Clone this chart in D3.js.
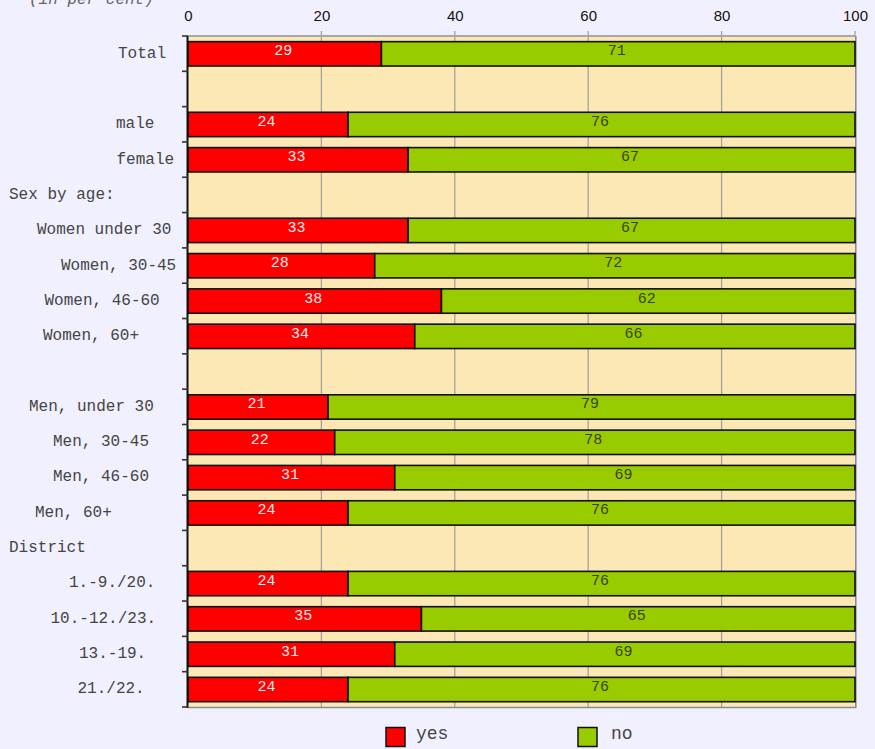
<!DOCTYPE html>
<html>
<head>
<meta charset="utf-8">
<script src="https://cdn.jsdelivr.net/npm/d3@7"></script>
<style>
  html, body { margin: 0; padding: 0; background: #f0f0ff; }
  svg { display: block; }
  .mono { font-family: "Courier New", "Liberation Mono", monospace; }
</style>
</head>
<body>
<svg id="chart" width="875" height="749"></svg>
<script>
// Survey answers by group (per cent); empty rows separate the sections
const rowLabels = ["Total", "", "male", "female", "Sex by age:",
  "Women under 30", "Women, 30-45", "Women, 46-60", "Women, 60+", "",
  "Men, under 30", "Men, 30-45", "Men, 46-60", "Men, 60+", "District",
  "1.-9./20.", "10.-12./23.", "13.-19.", "21./22."];
const yesValues = [29, null, 24, 33, null, 33, 28, 38, 34, null, 21, 22, 31, 24, null, 24, 35, 31, 24];
const noValues  = [71, null, 76, 67, null, 67, 72, 62, 66, null, 79, 78, 69, 76, null, 76, 65, 69, 76];
const xTickValues = [0, 20, 40, 60, 80, 100];
const seriesNames = ["yes", "no"];
const subtitle = "(in per cent)";

// Layout: left edge of each row label
const labelLeft = [118, 0, 116, 116.5, 9, 37, 61, 44.5, 43, 0, 29, 53, 53, 35, 9, 69, 50.5, 79, 77.5];

const colors = { yes: "#ff0000", no: "#99cc00" };
const textColors = { yes: "#ffecec", no: "#3a4200" };

const svg = d3.select("#chart");
const plot = { left: 188, right: 855, top: 36, bottom: 707 };

const x = d3.scaleLinear().domain([0, 100]).range([plot.left, plot.right]);
const y = d3.scaleBand().domain(d3.range(rowLabels.length)).range([plot.top, plot.bottom]).padding(0);
const bw = y.bandwidth();

// subtitle, partly above the top edge
svg.append("text").attr("class", "mono")
  .attr("x", 29).attr("y", 4)
  .attr("font-size", 16).attr("font-style", "italic").attr("fill", "#666")
  .text(subtitle);

// plot background
svg.append("rect")
  .attr("x", plot.left).attr("y", plot.top)
  .attr("width", plot.right - plot.left).attr("height", plot.bottom - plot.top)
  .attr("fill", "#fce8b4");

// shadow edges on right and bottom
svg.append("path")
  .attr("d", `M${plot.right + 0.8},${plot.top}V${plot.bottom + 0.5}H${plot.left}`)
  .attr("fill", "none").attr("stroke", "#8a8a99").attr("stroke-width", 1.6);

// vertical grid lines with short ticks above the plot
svg.append("g").selectAll("line")
  .data(xTickValues.filter(d => d > 0 && d < 100))
  .join("line")
  .attr("x1", d => x(d)).attr("x2", d => x(d))
  .attr("y1", plot.top - 5).attr("y2", plot.bottom)
  .attr("stroke", "#a8a39a").attr("stroke-width", 1.3);

svg.append("line")
  .attr("x1", x(100)).attr("x2", x(100))
  .attr("y1", plot.top - 5).attr("y2", plot.top)
  .attr("stroke", "#a8a39a").attr("stroke-width", 1.3);

// top border
svg.append("line")
  .attr("x1", plot.left).attr("x2", plot.right)
  .attr("y1", plot.top).attr("y2", plot.top)
  .attr("stroke", "#a8a8a8").attr("stroke-width", 2);

// top axis labels
const xAxis = d3.axisTop(x).tickValues(xTickValues).tickSize(0).tickPadding(0);
const gx = svg.append("g").attr("transform", `translate(0,${21})`).call(xAxis);
gx.select(".domain").remove();
gx.selectAll("text")
  .attr("font-family", "Arial, 'Liberation Sans', sans-serif")
  .attr("font-size", 15).attr("fill", "#111").attr("dy", 0);

// stacked bars
const rows = rowLabels.map((label, i) => ({ i, label, yes: yesValues[i], no: noValues[i] }))
  .filter(r => r.yes != null);
const stack = d3.stack().keys(seriesNames)(rows);

const barY = i => y(i) + bw * 0.16;
const barH = bw * 0.69;

const layers = svg.append("g").selectAll("g")
  .data(stack).join("g");

layers.selectAll("rect")
  .data(s => s.map(d => ({ key: s.key, d })))
  .join("rect")
  .attr("x", p => x(p.d[0]))
  .attr("width", p => x(p.d[1]) - x(p.d[0]))
  .attr("y", p => barY(p.d.data.i))
  .attr("height", barH)
  .attr("fill", p => colors[p.key])
  .attr("stroke", "#111").attr("stroke-width", 1.6);

layers.selectAll("text")
  .data(s => s.map(d => ({ key: s.key, d })))
  .join("text")
  .attr("class", "mono")
  .attr("x", p => (x(p.d[0]) + x(p.d[1])) / 2 - 1.5)
  .attr("y", p => barY(p.d.data.i) + barH / 2 + 1.5)
  .attr("text-anchor", "middle")
  .attr("font-size", 15)
  .attr("fill", p => textColors[p.key])
  .text(p => p.d.data[p.key]);

// left axis with row boundary ticks
svg.append("line")
  .attr("x1", plot.left - 0.5).attr("x2", plot.left - 0.5)
  .attr("y1", plot.top).attr("y2", plot.bottom + 1)
  .attr("stroke", "#111").attr("stroke-width", 2);

svg.append("g").selectAll("line")
  .data(d3.range(rowLabels.length + 1))
  .join("line")
  .attr("x1", plot.left - 6).attr("x2", plot.left)
  .attr("y1", k => plot.top + k * bw).attr("y2", k => plot.top + k * bw)
  .attr("stroke", "#333").attr("stroke-width", 1.6);

// row labels
svg.append("g").selectAll("text")
  .data(rowLabels.map((label, i) => ({ label, i })).filter(r => r.label))
  .join("text")
  .attr("class", "mono")
  .attr("x", r => labelLeft[r.i])
  .attr("y", r => y(r.i) + bw / 2 + 4)
  .attr("font-size", 16)
  .attr("fill", "#444")
  .text(r => r.label);

// legend
const legend = svg.append("g");
const legendPos = [{ sx: 386, tx: 416 }, { sx: 578, tx: 611 }];
seriesNames.forEach((name, k) => {
  legend.append("rect")
    .attr("x", legendPos[k].sx).attr("y", 727.5)
    .attr("width", 19).attr("height", 19)
    .attr("fill", colors[name]).attr("stroke", "#111").attr("stroke-width", 1.5);
  legend.append("text").attr("class", "mono")
    .attr("x", legendPos[k].tx).attr("y", 739)
    .attr("font-size", 18).attr("fill", "#444")
    .text(name);
});
</script>
</body>
</html>
